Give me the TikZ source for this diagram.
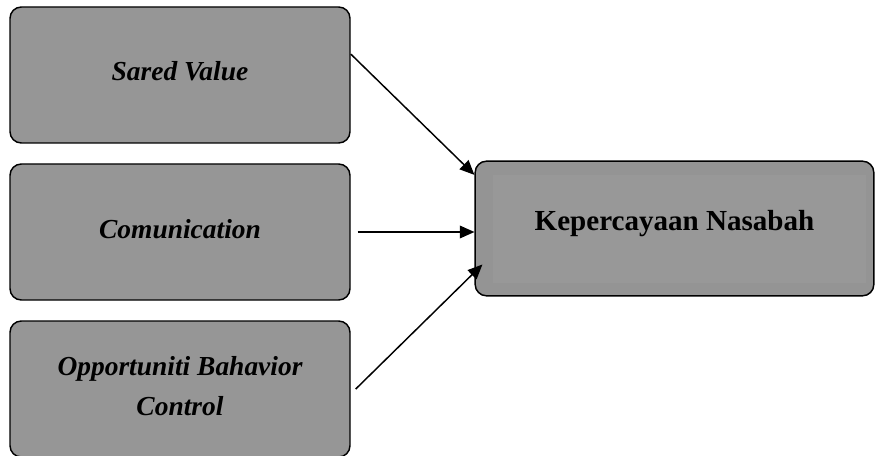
\documentclass[tikz,border=0pt]{standalone}
\usepackage{fontspec}
\setmainfont{Liberation Serif}
\usetikzlibrary{arrows.meta,calc}
\definecolor{boxgray}{RGB}{150,150,150}
\definecolor{outergray}{RGB}{148,148,148}
\definecolor{innergray}{RGB}{152,152,152}
\begin{document}
\begin{tikzpicture}[x=0.75pt,y=-0.75pt,
  box/.style={draw=black,line width=1.1pt,fill=boxgray,rounded corners=8.5pt,
    inner sep=0pt,minimum width=255pt,minimum height=102pt},
  itxt/.style={align=center,inner sep=0pt,font=\fontsize{20.6}{30}\selectfont\bfseries\itshape},
  btxt/.style={align=center,inner sep=0pt,font=\fontsize{21.8}{26}\selectfont\bfseries},
  arr/.style={line width=1.1pt,-{Triangle[length=11pt,width=9.5pt]}}]
\useasboundingbox (0,0) rectangle (875,456);
\node[box] (b1) at (180,75) {};
\node[itxt] (t1) at ([yshift=3pt]b1.center) {Sared Value};
\node[box] (b2) at (180,232) {};
\node[itxt] (t2) at ([yshift=2pt]b2.center) {Comunication};
\node[box] (b3) at (180,389) {};
\node[itxt] (t3) at ([yshift=2pt]b3.center) {Opportuniti Bahavior\\Control};
\node[box,fill=outergray,minimum width=299pt,minimum height=101pt] (b4) at (674.5,228.5) {};
\fill[innergray] (493,175) rectangle (866,283);
\node[btxt] (t4) at ([yshift=3.5pt]b4.center) {Kepercayaan Nasabah};
\draw[arr] (b1.7.4) -- (b4.165.4);
\draw[arr] ([xshift=5.25pt]b2.east) -- (b4.west |- b2.east);
\draw[arr] ([xshift=3.75pt]b3.east) -- ($(b4.west)+(8,36)$);
\end{tikzpicture}
\end{document}
